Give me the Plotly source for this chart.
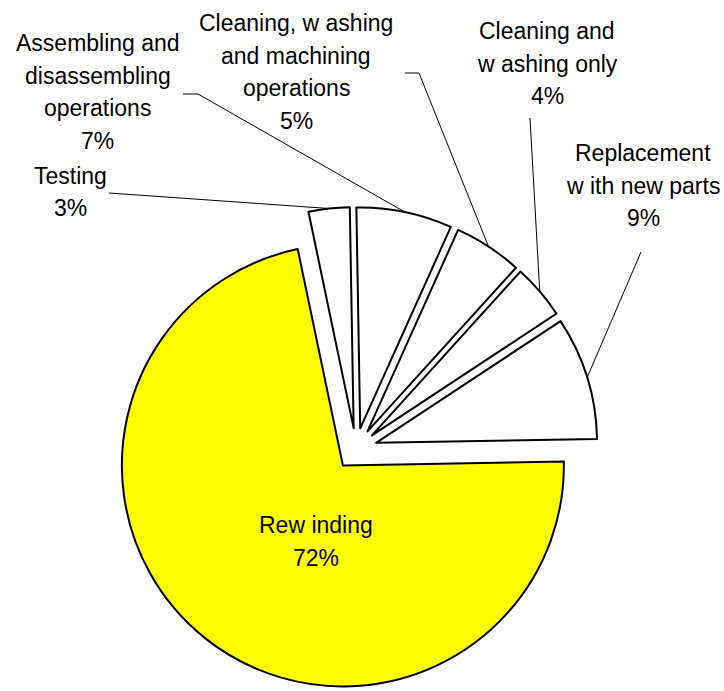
import math
import plotly.graph_objects as go

# ---------------- data ----------------
categories = [
    "Rew inding",
    "Testing",
    "Assembling and disassembling operations",
    "Cleaning, w ashing and machining operations",
    "Cleaning and w ashing only",
    "Replacement w ith new parts",
]
values = [72, 3, 7, 5, 4, 9]
slice_colors = ["#FFFF00", "#FFFFFF", "#FFFFFF", "#FFFFFF", "#FFFFFF", "#FFFFFF"]

# line breaks used for the labels (display only)
label_lines = [
    ["Rew inding"],
    ["Testing"],
    ["Assembling and", "disassembling", "operations"],
    ["Cleaning, w ashing", "and machining", "operations"],
    ["Cleaning and", "w ashing only"],
    ["Replacement", "w ith new parts"],
]

# ---------------- layout ----------------
W, H = 724, 691
cx, cy = 356, 449          # pie centre (px)
R_OUT = 242                # radius including pull (px)
PULL = 0.095
ROTATION = 89
LINE_GAP = 32.5            # px between label lines

# label: x centre and y centre of first line (px); leader line start points (px)
label_pos = [(316, 525), (70, 176), (98, 43), (296, 23), (547, 31), (643, 153)]
leader_start = [
    None,
    [(109, 193)],
    [(183, 94), (198, 94)],
    [(405, 73), (419, 73)],
    [(530, 118)],
    [(641, 252)],
]

FONT = dict(family="Liberation Sans, Arial, sans-serif", size=23, color="black")


def px2paper(x, y):
    return x / W, 1 - y / H


fig = go.Figure()
fig.add_trace(go.Pie(
    labels=categories,
    values=values,
    sort=False,
    direction="clockwise",
    rotation=ROTATION,
    pull=[PULL] * len(values),
    marker=dict(colors=slice_colors, line=dict(color="black", width=2)),
    textinfo="none",
    hoverinfo="label+percent",
    domain=dict(
        x=[max(0, (cx - R_OUT) / W), min(1, (cx + R_OUT) / W)],
        y=[max(0, 1 - (cy + R_OUT) / H), min(1, 1 - (cy - R_OUT) / H)],
    ),
    showlegend=False,
))

total = sum(values)
angle = ROTATION
annotations = []
shapes = []
for i, v in enumerate(values):
    a0 = angle
    a1 = angle + v / total * 360
    angle = a1
    mid = math.radians((a0 + a1) / 2)
    tip = (cx + R_OUT * math.sin(mid), cy - R_OUT * math.cos(mid))

    lines = label_lines[i] + [f"{round(v / total * 100)}%"]
    x0, y0 = label_pos[i]
    for k, line in enumerate(lines):
        lx, ly = px2paper(x0, y0 + k * LINE_GAP)
        annotations.append(dict(
            x=lx, y=ly, xref="paper", yref="paper", text=line, showarrow=False,
            xanchor="center", yanchor="middle", align="center", font=FONT,
        ))

    if leader_start[i]:
        pts = leader_start[i] + [tip]
        path = ""
        for j, (x, y) in enumerate(pts):
            px, py = px2paper(x, y)
            path += ("M " if j == 0 else " L ") + f"{px:.5f} {py:.5f}"
        shapes.append(dict(type="path", path=path, xref="paper", yref="paper",
                           line=dict(color="black", width=1)))

fig.update_layout(
    width=W, height=H,
    margin=dict(l=0, r=0, t=0, b=0),
    paper_bgcolor="white", plot_bgcolor="white",
    annotations=annotations,
    shapes=shapes,
    showlegend=False,
)

fig.write_html("out.html")
